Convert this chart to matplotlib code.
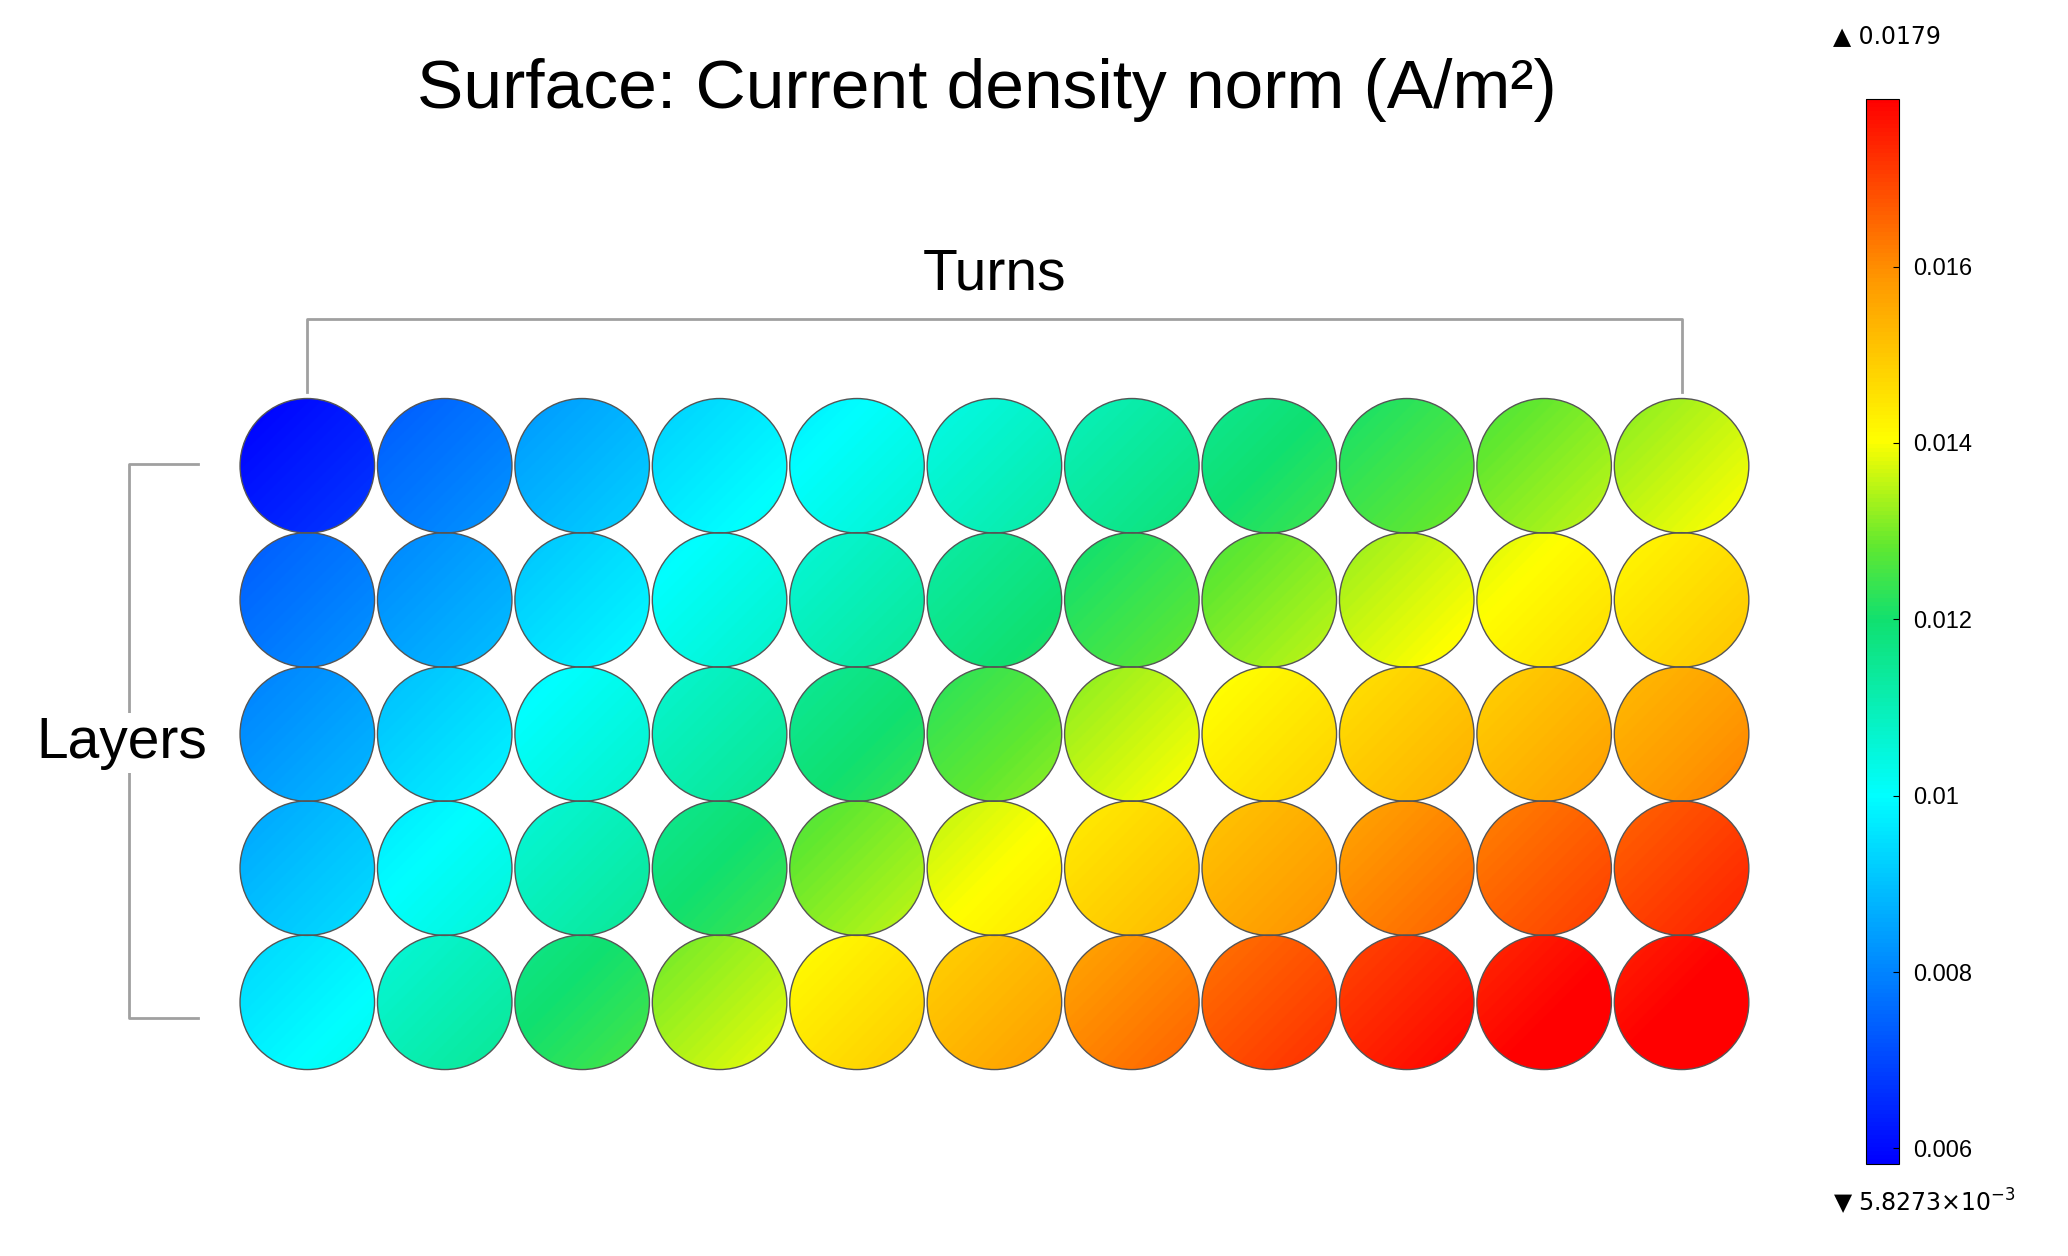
import numpy as np
import matplotlib
matplotlib.use("Agg")
import matplotlib.pyplot as plt
from matplotlib.colors import LinearSegmentedColormap, Normalize
from matplotlib.patches import Circle
from matplotlib.cm import ScalarMappable

plt.rcParams['font.family'] = ['Liberation Sans', 'DejaVu Sans']

vmin, vmax = 0.0058273, 0.0179
values = [
    [0.0063, 0.0078, 0.0088, 0.0097, 0.0102, 0.0108, 0.0114, 0.0120, 0.0125, 0.0131, 0.0136],
    [0.0078, 0.0085, 0.0095, 0.0103, 0.0110, 0.0117, 0.0124, 0.0131, 0.0137, 0.0142, 0.0146],
    [0.0084, 0.0094, 0.0103, 0.0111, 0.0119, 0.0127, 0.0136, 0.0144, 0.0150, 0.0153, 0.0157],
    [0.0090, 0.0101, 0.0110, 0.0120, 0.0131, 0.0140, 0.0148, 0.0155, 0.0161, 0.0166, 0.0170],
    [0.0098, 0.0110, 0.0121, 0.0134, 0.0145, 0.0153, 0.0161, 0.0168, 0.0174, 0.0178, 0.0179],
]
grad = 0.0005
cbar_ticks = [0.006, 0.008, 0.01, 0.012, 0.014, 0.016]
cbar_labels = ["0.006", "0.008", "0.01", "0.012", "0.014", "0.016"]

cmap = LinearSegmentedColormap.from_list("comsol", [
    (0.0, "#0000ff"), (0.345, "#00ffff"), (0.51, "#10e070"), (0.58, "#60e830"),
    (0.68, "#ffff00"), (0.83, "#ff9900"), (1.0, "#ff0000")])
norm = Normalize(vmin, vmax)

W, H = 1568, 952
fig = plt.figure(figsize=(20.68, 12.56), dpi=100)
ax = fig.add_axes([0, 0, 1, 1])
ax.set_xlim(0, W); ax.set_ylim(H, 0); ax.axis("off")

x0, dx, y0, dy, r = 233, 104.2, 353, 101.7, 51
yy, xx = np.mgrid[-1:1:100j, -1:1:100j]
for i, row in enumerate(values):
    for j, v in enumerate(row):
        cx, cy = x0 + j * dx, y0 + i * dy
        field = v + grad * (xx + yy) / 2
        im = ax.imshow(field, cmap=cmap, norm=norm, extent=(cx - r, cx + r, cy + r, cy - r),
                       interpolation="bilinear", zorder=1)
        c = Circle((cx, cy), r, transform=ax.transData, fc="none", ec="#555555", lw=1, zorder=2)
        ax.add_patch(c)
        im.set_clip_path(c)

ax.set_xlim(0, W); ax.set_ylim(H, 0)
gray = "#a0a0a0"
ax.plot([233, 233, 1275, 1275], [297, 242, 242, 297], color=gray, lw=2)
ax.plot([150, 98, 98, 150], [352, 352, 772, 772], color=gray, lw=2)
ax.text(754, 208, "Turns", fontsize=41, ha="center", va="center")
ax.text(92, 563, "Layers", fontsize=41, ha="center", va="center", zorder=5,
        bbox=dict(fc="white", ec="none", pad=2))
ax.text(748, 68, "Surface: Current density norm (A/m²)", fontsize=50, ha="center", va="center")

cax = fig.add_axes([1415 / W, 1 - 882 / H, 25 / W, 807 / H])
cb = fig.colorbar(ScalarMappable(norm=norm, cmap=cmap), cax=cax)
cb.set_ticks(cbar_ticks); cb.set_ticklabels(cbar_labels)
cb.ax.tick_params(labelsize=17, length=4, direction="in", pad=10)
cb.outline.set_linewidth(0.8)
ax.text(1390, 27, "▲ 0.0179", fontsize=17, va="center", family=['DejaVu Sans'])
ax.text(1390, 911, "▼ 5.8273×10$^{-3}$", fontsize=17, va="center", family=['DejaVu Sans'])
fig.savefig("out.png", dpi=100)
